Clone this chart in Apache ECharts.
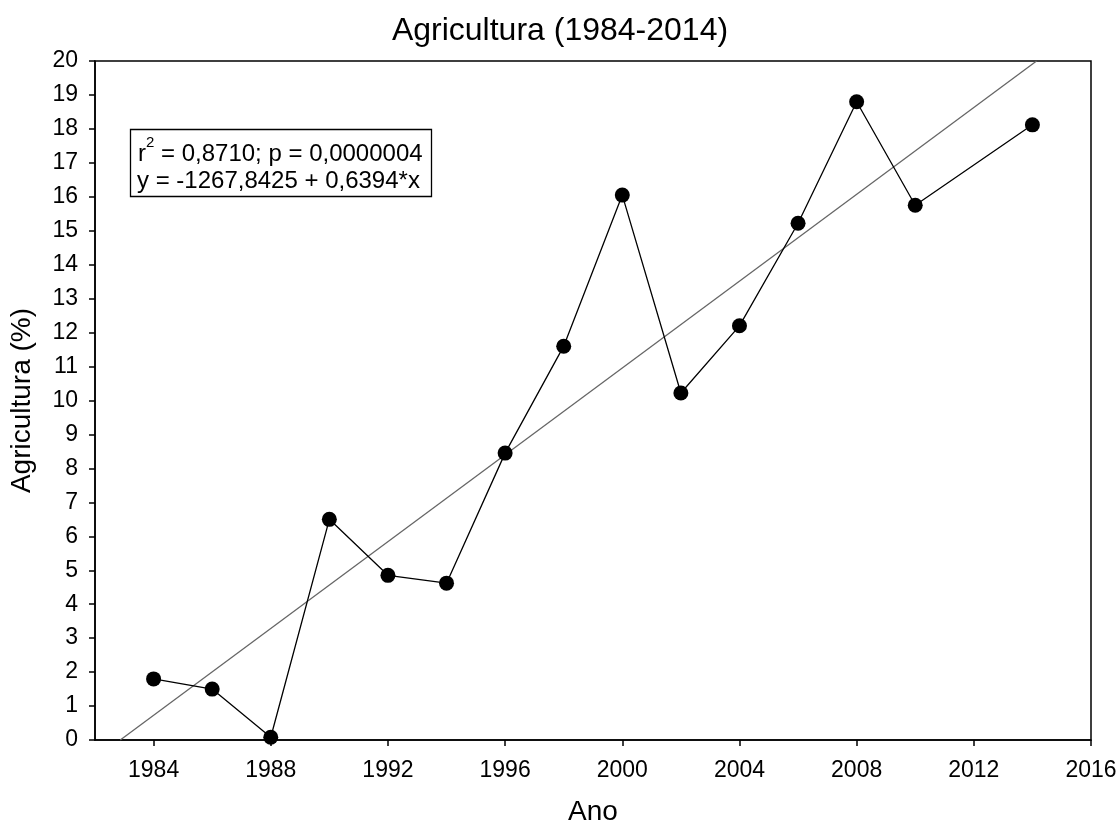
<!DOCTYPE html>
<html><head><meta charset="utf-8">
<script src="https://cdn.jsdelivr.net/npm/echarts@6/dist/echarts.min.js"></script>
<style>html,body{margin:0;padding:0;background:#fff}#c{width:1120px;height:825px}</style>
</head><body><div id="c"></div>
<script>
const years = [1984,1986,1988,1990,1992,1994,1996,1998,2000,2002,2004,2006,2008,2010,2014];
const values = [1.8,1.5,0.08,6.5,4.85,4.62,8.45,11.6,16.05,10.22,12.2,15.22,18.8,15.75,18.12];
const xTicks = [1984,1988,1992,1996,2000,2004,2008,2012,2016];
const regIntercept = -1267.8425;
const regSlope = 0.6394;
const regX = [(0 - regIntercept)/regSlope, (20 - regIntercept)/regSlope];

const FONT = '"Liberation Sans", Arial, sans-serif';
const chart = echarts.init(document.getElementById('c'));
chart.setOption({
  backgroundColor:'#fff',
  animation:false,
  title:{text:'Agricultura (1984-2014)',left:'center',top:10,textStyle:{fontFamily:FONT,fontSize:32,fontWeight:'normal',color:'#000'}},
  grid:{left:95,top:61,right:29,bottom:85,show:true,borderColor:'#000',borderWidth:1.5,backgroundColor:'transparent',
        containLabel:false,outerBoundsMode:'none'},
  xAxis:{type:'value',min:1982,max:2016,
    name:'Ano',nameLocation:'middle',nameGap:58,nameTextStyle:{fontFamily:FONT,fontSize:28,color:'#000'},
    axisLine:{show:true,lineStyle:{color:'#000',width:1.5}},
    axisTick:{show:true,inside:false,length:6,lineStyle:{color:'#000',width:1.5},customValues:xTicks},
    axisLabel:{fontFamily:FONT,fontSize:23,color:'#000',margin:19,customValues:xTicks,formatter:v=>String(v)},
    splitLine:{show:false}},
  yAxis:{type:'value',min:0,max:20,interval:1,
    name:'Agricultura (%)',nameLocation:'middle',nameGap:59,nameTextStyle:{fontFamily:FONT,fontSize:28,color:'#000'},
    axisLine:{show:true,lineStyle:{color:'#000',width:1.5}},
    axisTick:{show:true,inside:false,length:6,lineStyle:{color:'#000',width:1.5}},
    axisLabel:{fontFamily:FONT,fontSize:23,color:'#000',margin:17},
    splitLine:{show:false}},
  series:[
    {type:'line',data:regX.map(x=>[x, regIntercept+regSlope*x]),showSymbol:false,symbol:'none',
     lineStyle:{color:'#666',width:1.3},z:2},
    {type:'line',data:years.map((y,i)=>[y,values[i]]),symbol:'circle',symbolSize:15,
     itemStyle:{color:'#000'},lineStyle:{color:'#000',width:1.3},z:3}
  ],
  graphic:[
    {type:'rect',shape:{x:130.5,y:129.5,width:301,height:67},style:{fill:'#fff',stroke:'#000',lineWidth:1.3},z:10},
    {type:'text',x:138,y:154,z:11,style:{text:'r',fontFamily:FONT,fontSize:24,fill:'#000',verticalAlign:'middle'}},
    {type:'text',x:146,y:143,z:11,style:{text:'2',fontFamily:FONT,fontSize:15,fill:'#000',verticalAlign:'middle'}},
    {type:'text',x:161,y:154,z:11,style:{text:'= 0,8710; p = 0,0000004',fontFamily:FONT,fontSize:24,fill:'#000',verticalAlign:'middle'}},
    {type:'text',x:137,y:181,z:11,style:{text:'y = -1267,8425 + 0,6394*x',fontFamily:FONT,fontSize:24,fill:'#000',verticalAlign:'middle'}}
  ]
});
</script></body></html>
